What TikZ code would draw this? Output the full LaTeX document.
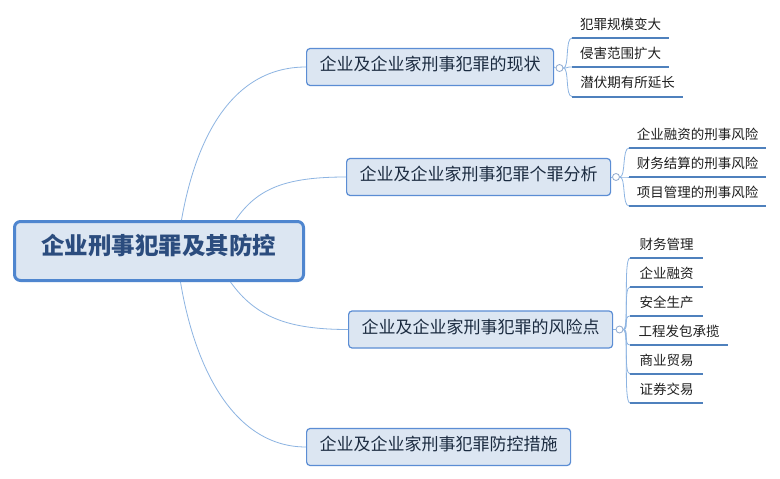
\documentclass[tikz,border=0pt]{standalone}
\usepackage{fontspec}
\setmainfont{Noto Sans CJK SC}
\begin{document}
\begin{tikzpicture}[x=1pt,y=-1pt,
  boxfill/.style={fill=boxbg},
  rootbox/.style={draw=rootline, line width=3pt, fill=boxbg, rounded corners=6pt,
    minimum width=289pt, minimum height=59pt, inner sep=0pt,
    font=\fontsize{23.5pt}{26pt}\selectfont\bfseries, text=roottext,
    text height=0.84em, text depth=0.1em},
  branchbox/.style={draw=branchline, line width=1.2pt, fill=boxbg, rounded corners=3.5pt,
    minimum height=37pt, inner xsep=13pt, inner ysep=0pt, anchor=west,
    font=\fontsize{17pt}{20pt}\selectfont, text=branchtext,
    text height=0.84em, text depth=0.1em},
  leaf/.style={anchor=south west, minimum height=25pt, inner sep=0pt,
    font=\fontsize{13.5pt}{16pt}\selectfont, text=leaftext,
    text height=0.84em, text depth=0.1em},
  knob/.style={circle, draw=knobline, fill=white, line width=0.8pt, minimum size=7pt, inner sep=0pt},
  mainlink/.style={draw=linkblue, line width=0.8pt},
  leaflink/.style={draw=linkblue, line width=0.8pt},
  uline/.style={draw=ulblue, line width=2pt},
]
\definecolor{boxbg}{HTML}{DCE6F2}
\definecolor{rootline}{HTML}{4F86CF}
\definecolor{branchline}{HTML}{5B8DD4}
\definecolor{roottext}{HTML}{2B4C7E}
\definecolor{branchtext}{HTML}{1B2B40}
\definecolor{leaftext}{HTML}{1E1E1E}
\definecolor{knobline}{HTML}{8FA9CF}
\definecolor{linkblue}{HTML}{8DB4E2}
\definecolor{ulblue}{HTML}{4F81BD}
\useasboundingbox[fill=white] (0,0) rectangle (780,479);

% root
\node[rootbox] (root) at (159,251) {企业刑事犯罪及其防控};
\coordinate (r1) at ([xshift=168.5pt]root.north west);
\coordinate (r2) at ([xshift=222.5pt]root.north west);
\coordinate (r3) at ([xshift=217.5pt]root.south west);
\coordinate (r4) at ([xshift=167.5pt]root.south west);

% branches
\node[branchbox] (p1) at (306,67) {企业及企业家刑事犯罪的现状};
\node[branchbox] (p2) at (346,177) {企业及企业家刑事犯罪个罪分析};
\node[branchbox] (p3) at (348,329.5) {企业及企业家刑事犯罪的风险点};
\node[branchbox] (p4) at (306,447) {企业及企业家刑事犯罪防控措施};

\draw[mainlink] (r1) .. controls +(14,-80) and +(-75,0) .. (p1.west);
\draw[mainlink] (r2) .. controls +(22,-32) and +(-60,0) .. (p2.west);
\draw[mainlink] (r3) .. controls +(25,35) and +(-60,0) .. (p3.west);
\draw[mainlink] (r4) .. controls +(15,90) and +(-70,0) .. (p4.west);

% knobs
\node[knob] (k1) at (559.5,68) {};
\node[knob] (k2) at (616,177) {};
\node[knob] (k3) at (619.5,329.5) {};
\draw[leaflink] (p1.east) -- (k1.west);
\draw[leaflink] (p2.east) -- (k2.west);
\draw[leaflink] (p3.east) -- (k3.west);

% leaves of branch 1
\node[leaf, minimum width=97pt] (a1) at (572,38) {犯罪规模变大};
\node[leaf, minimum width=97pt] (a2) at (572,67) {侵害范围扩大};
\node[leaf, minimum width=111pt] (a3) at (572,96.5) {潜伏期有所延长};
\foreach \n in {a1,a2,a3}{
  \draw[leaflink] (k1.east) .. controls +(6,0) and +(-7,0) .. (\n.south west);
  \draw[uline] (\n.south west) -- (\n.south east);
}

% leaves of branch 2
\node[leaf, minimum width=137pt] (b1) at (629,148) {企业融资的刑事风险};
\node[leaf, minimum width=137pt] (b2) at (629,177) {财务结算的刑事风险};
\node[leaf, minimum width=137pt] (b3) at (629,206) {项目管理的刑事风险};
\foreach \n in {b1,b2,b3}{
  \draw[leaflink] (k2.east) .. controls +(6,0) and +(-7,0) .. (\n.south west);
  \draw[uline] (\n.south west) -- (\n.south east);
}

% leaves of branch 3
\node[leaf, minimum width=73pt] (c1) at (630,258) {财务管理};
\node[leaf, minimum width=73pt] (c2) at (630,287) {企业融资};
\node[leaf, minimum width=73pt] (c3) at (630,316) {安全生产};
\node[leaf, minimum width=98pt] (c4) at (630,345) {工程发包承揽};
\node[leaf, minimum width=73pt] (c5) at (630,374) {商业贸易};
\node[leaf, minimum width=73pt] (c6) at (630,403) {证券交易};
\foreach \n in {c1,c2,c3,c4,c5,c6}{
  \draw[leaflink] (k3.east) .. controls +(6,0) and +(-7,0) .. (\n.south west);
  \draw[uline] (\n.south west) -- (\n.south east);
}
\end{tikzpicture}
\end{document}
